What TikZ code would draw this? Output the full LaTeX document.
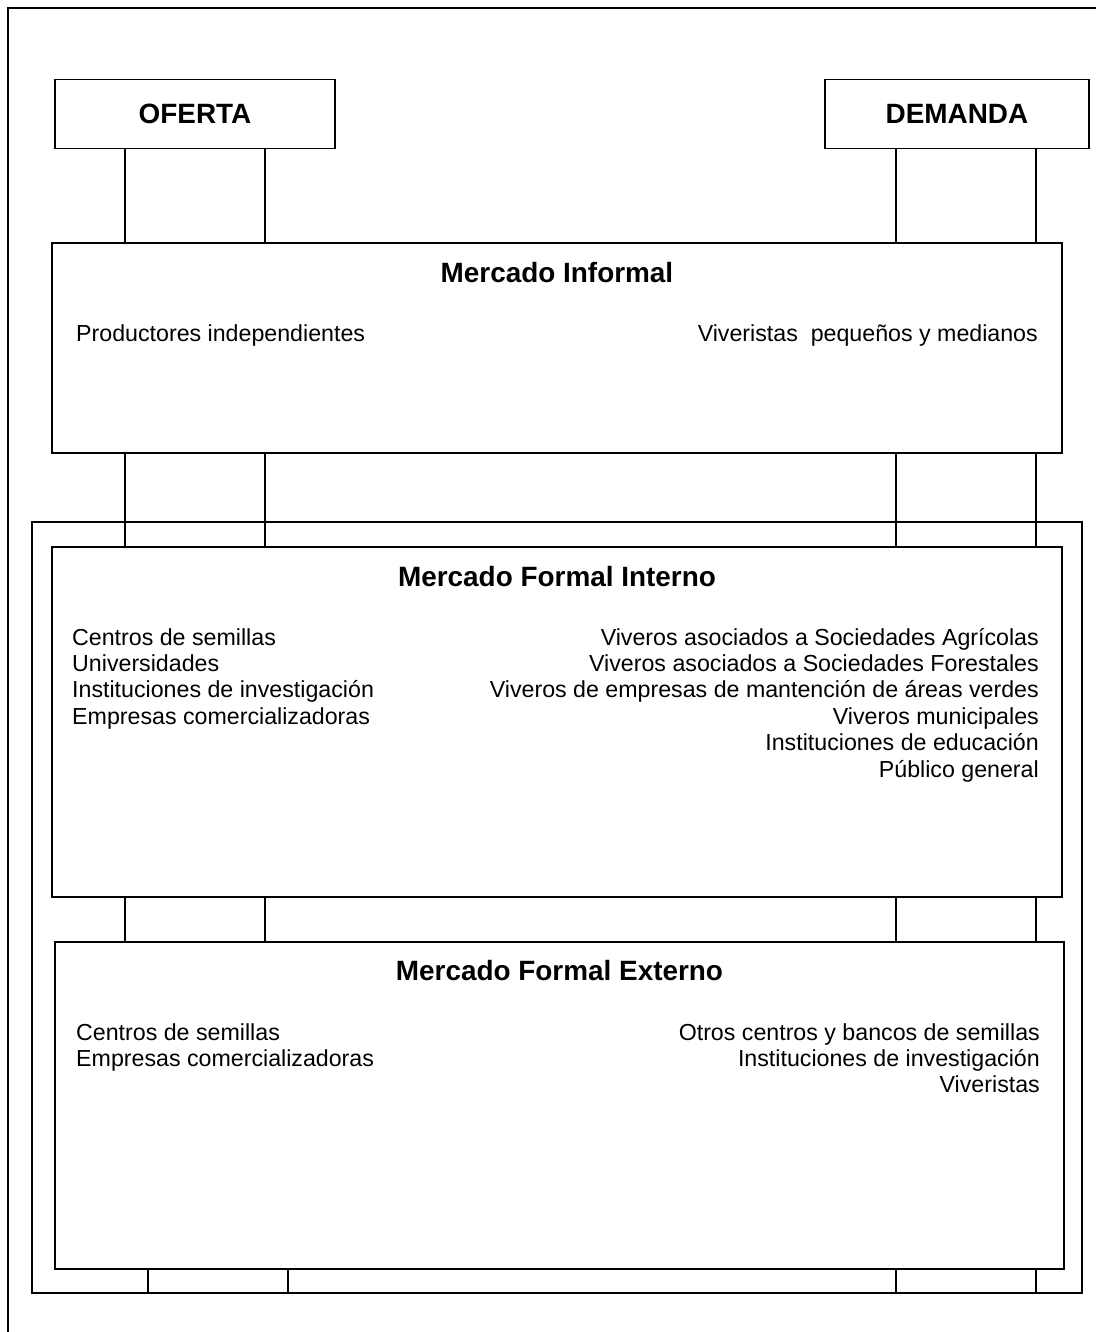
\documentclass[tikz,border=0pt]{standalone}
\usepackage{fontspec}
\setmainfont{Liberation Sans}
\usetikzlibrary{positioning}

\begin{document}
\begin{tikzpicture}[x=1pt,y=-1pt,
	box/.style={draw,line width=1.7pt,inner sep=0pt,outer sep=0pt},
	title/.style={font=\fontsize{27.9}{32}\selectfont\bfseries,inner sep=0pt},
	txt/.style={font=\fontsize{23.2}{26.4}\selectfont,inner sep=0pt},
	stem/.style={draw,line width=1.7pt}]
\useasboundingbox (0,0) rectangle (1096,1332);
\draw[line width=1.7pt] (1096,8) -- (8,8) -- (8,1332);
% x positions of the stems
\coordinate (ol) at (125,0);
\coordinate (or) at (265,0);
\coordinate (dl) at (896,0);
\coordinate (dr) at (1036,0);
\coordinate (bl) at (148,0);
\coordinate (br) at (288,0);
% top boxes
\node[box,title,minimum width=280,minimum height=69] (oferta) at (195,114) {OFERTA};
\node[box,title,minimum width=264,minimum height=69] (demanda) at (957,114) {DEMANDA};
% markets
\node[box,minimum width=1010,minimum height=210] (informal) at (557,348) {};
\draw[box] (32,522) rectangle (1082,1293) coordinate (formal);
\node[box,minimum width=1010,minimum height=350] (interno) at (557,722) {};
\node[box,minimum width=1009,minimum height=327] (externo) at (559.5,1105.5) {};
% stems
\draw[stem] (ol |- oferta.south) rectangle (or |- informal.north);
\draw[stem] (dl |- demanda.south) rectangle (dr |- informal.north);
\draw[stem] (ol |- informal.south) rectangle (or |- interno.north);
\draw[stem] (dl |- informal.south) rectangle (dr |- interno.north);
\draw[stem] (ol |- interno.south) rectangle (or |- externo.north);
\draw[stem] (dl |- interno.south) rectangle (dr |- externo.north);
\draw[stem] (bl |- externo.south) rectangle (br |- formal);
\draw[stem] (dl |- externo.south) rectangle (dr |- formal);
% Mercado Informal
\node[title,anchor=base] (informalT) at ([yshift=-39pt]informal.north) {Mercado Informal};
\node[txt,anchor=base west] (informalO) at ([xshift=24pt,yshift=-98pt]informal.north west) {Productores independientes};
\node[txt,anchor=base east] (informalD) at ([xshift=-24pt,yshift=-98pt]informal.north east) {Viveristas\ \ pequeños y medianos};
% Mercado Formal Interno (base = last line)
\node[title,anchor=base] (internoT) at ([yshift=-39pt]interno.north) {Mercado Formal Interno};
\node[txt,anchor=base west,align=left] (internoO) at ([xshift=20pt,yshift=-177.2pt]interno.north west) {Centros de semillas\\Universidades\\Instituciones de investigación\\Empresas comercializadoras};
\node[txt,anchor=base east,align=right] (internoD) at ([xshift=-23pt,yshift=-230pt]interno.north east) {Viveros asociados a Sociedades Agrícolas\\Viveros asociados a Sociedades Forestales\\Viveros de empresas de mantención de áreas verdes\\Viveros municipales\\Instituciones de educación\\Público general};
% Mercado Formal Externo
\node[title,anchor=base] (externoT) at ([yshift=-38pt]externo.north) {Mercado Formal Externo};
\node[txt,anchor=base west,align=left] (externoO) at ([xshift=21pt,yshift=-124.4pt]externo.north west) {Centros de semillas\\Empresas comercializadoras};
\node[txt,anchor=base east,align=right] (externoD) at ([xshift=-24pt,yshift=-150.8pt]externo.north east) {Otros centros y bancos de semillas\\Instituciones de investigación\\Viveristas};
\end{tikzpicture}
\end{document}
